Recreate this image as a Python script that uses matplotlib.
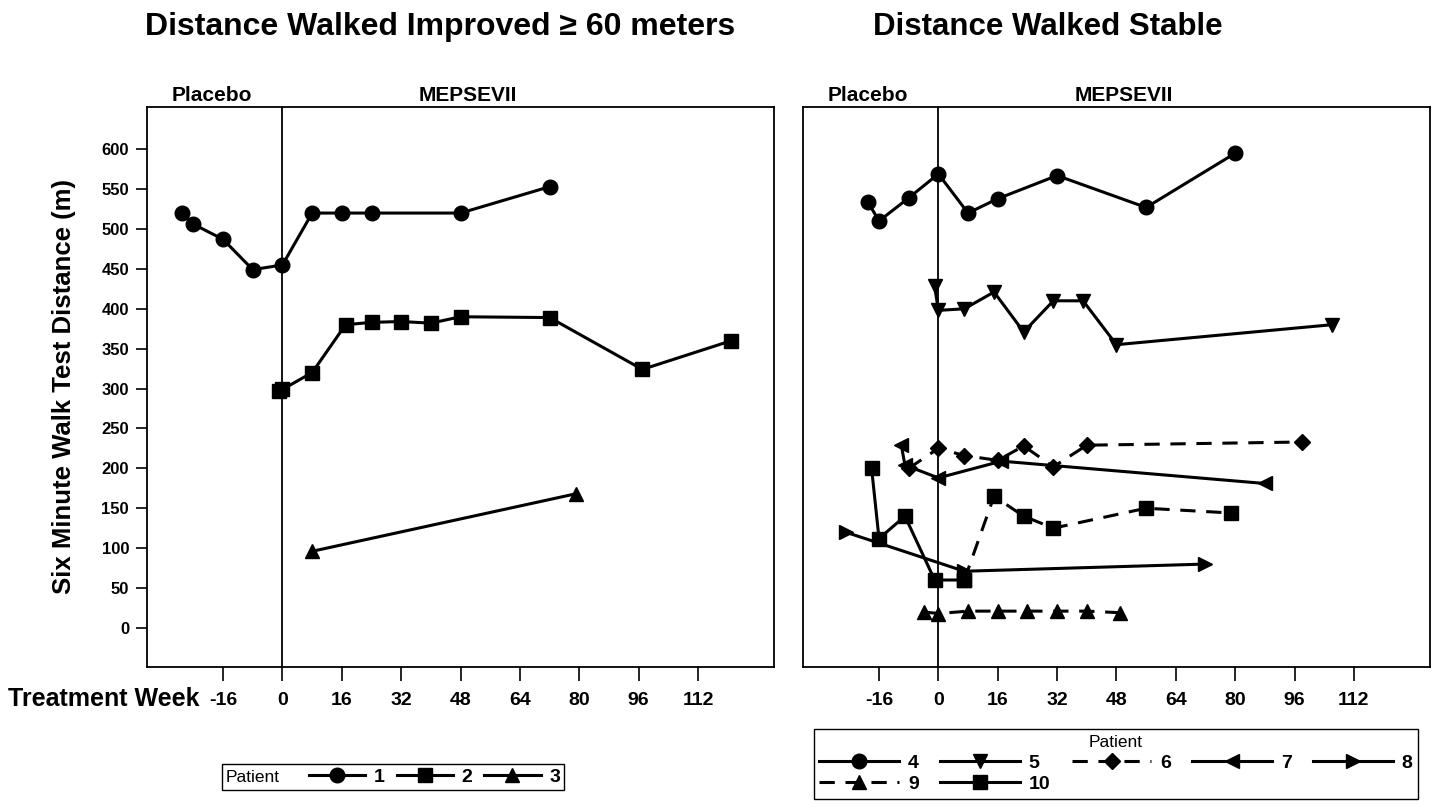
import matplotlib
matplotlib.use("Agg")
import matplotlib.pyplot as plt
from matplotlib.lines import Line2D
from matplotlib.offsetbox import HPacker
from matplotlib.transforms import blended_transform_factory

plt.rcParams['font.family'] = ['Liberation Sans', 'DejaVu Sans']

# ---- data (treatment week, six minute walk distance in m) ----
p1_week = [-27, -24, -16, -8, 0, 8, 16, 24, 48, 72]
p1_dist = [520, 506, 487, 449, 455, 520, 520, 520, 520, 553]
p2_week = [-1, 0, 8, 17, 24, 32, 40, 48, 72, 97, 121]
p2_dist = [297, 299, 320, 380, 383, 384, 382, 390, 389, 324, 360]
p3_week = [8, 79]
p3_dist = [96, 168]

p4_week = [-19, -16, -8, 0, 8, 16, 32, 56, 80]
p4_dist = [534, 510, 539, 569, 520, 538, 567, 527, 595]
p5_week = [-1, 0, 7, 15, 23, 31, 39, 48, 106]
p5_dist = [428, 398, 400, 421, 371, 410, 410, 355, 380]
p6_week = [-8, 0, 7, 16, 23, 31, 40, 98]
p6_dist = [200, 225, 216, 210, 228, 202, 229, 233]
p7_week = [-10, -9, 0, 17, 88]
p7_dist = [229, 204, 188, 209, 181]
p8_week = [-25, 7, 72]
p8_dist = [120, 71, 80]
p9_week = [-4, 0, 8, 16, 24, 32, 40, 49]
p9_dist = [20, 18, 21, 21, 21, 21, 21, 19]
p10_week = [-18, -16, -9, -1, 7]
p10_dist = [200, 112, 140, 60, 60]
p10b_week = [7, 15, 23, 31, 56, 79]
p10b_dist = [60, 165, 140, 125, 150, 144]

week_ticks = [-16, 0, 16, 32, 48, 64, 80, 96, 112]
dist_ticks = [0, 50, 100, 150, 200, 250, 300, 350, 400, 450, 500, 550, 600]

fig = plt.figure(figsize=(14.39, 8.06), dpi=100)
ax1 = fig.add_axes([0.1022, 0.1725, 0.4357, 0.6948])
ax2 = fig.add_axes([0.558, 0.1725, 0.4357, 0.6948])

lw = 2.2
ms = 10.5
dash = (0, (5, 3.5))
sty = dict(color='black', linewidth=lw, markerfacecolor='black', markeredgecolor='black')

ax1.plot(p1_week, p1_dist, marker='o', markersize=ms, **sty)
ax1.plot(p2_week, p2_dist, marker='s', markersize=ms, **sty)
ax1.plot(p3_week, p3_dist, marker='^', markersize=ms, **sty)

ax2.plot(p4_week, p4_dist, marker='o', markersize=ms, **sty)
ax2.plot(p5_week, p5_dist, marker='v', markersize=ms, **sty)
ax2.plot(p6_week, p6_dist, marker='D', markersize=7.8, linestyle=dash, **sty)
ax2.plot(p7_week, p7_dist, marker='<', markersize=ms, **sty)
ax2.plot(p8_week, p8_dist, marker='>', markersize=ms, **sty)
ax2.plot(p9_week, p9_dist, marker='^', markersize=ms, linestyle=dash, **sty)
ax2.plot(p10_week, p10_dist, marker='s', markersize=ms, **sty)
ax2.plot(p10b_week, p10b_dist, marker='s', markersize=ms, linestyle=dash, **sty)

for ax in (ax1, ax2):
    ax.set_xlim(-36.5, 132.5)
    ax.set_ylim(-49, 653)
    ax.axvline(0, color='black', linewidth=1.3, zorder=0)
    ax.set_xticks(week_ticks)
    ax.set_xticklabels([str(w) for w in week_ticks], fontsize=14, fontweight='bold')
    ax.tick_params(axis='x', direction='out', length=10, width=1.2, pad=8)
    for s in ax.spines.values():
        s.set_linewidth(1.3)
    tr = blended_transform_factory(ax.transData, ax.transAxes)
    ax.text(-19, 1.004, 'Placebo', transform=tr, ha='center', va='bottom',
            fontsize=15, fontweight='bold')
    ax.text(50, 1.004, 'MEPSEVII', transform=tr, ha='center', va='bottom',
            fontsize=15, fontweight='bold')

ax1.set_yticks(dist_ticks)
ax1.set_yticklabels([str(d) for d in dist_ticks], fontsize=12, fontweight='bold')
ax1.tick_params(axis='y', direction='out', length=8, width=1.2, pad=5)
ax1.set_ylabel('Six Minute Walk Test Distance (m)', fontsize=18.5, fontweight='bold', labelpad=18)
ax2.set_yticks([])

fig.text(440 / 1439, 1 - 27 / 806, 'Distance Walked Improved \u2265 60 meters',
         ha='center', va='center', fontsize=23, fontweight='bold')
fig.text(1048 / 1439, 1 - 27 / 806, 'Distance Walked Stable',
         ha='center', va='center', fontsize=22.5, fontweight='bold')
fig.text(8 / 1439, 1 - 699 / 806, 'Treatment Week', ha='left', va='center',
         fontsize=18, fontweight='bold')


def handle(marker, size, ls='-'):
    return Line2D([], [], color='black', linewidth=lw, linestyle=ls, marker=marker,
                  markersize=size, markerfacecolor='black', markeredgecolor='black')


leg1 = fig.legend([handle('o', ms), handle('s', ms), handle('^', ms)],
                  ['1', '2', '3'], ncol=3, loc='center', title='Patient',
                  title_fontsize=12.5, bbox_to_anchor=(393 / 1439, 1 - 777 / 806),
                  fontsize=14, handlelength=2.9, handletextpad=0.45, columnspacing=0.6,
                  borderpad=0.2, fancybox=False, edgecolor='black', framealpha=1)
leg1.get_frame().set_linewidth(1.0)
for t in leg1.get_texts():
    t.set_fontweight('bold')
# put the "Patient" title to the left of the entries, not on top
try:
    fs = leg1._fontsize
    box = HPacker(pad=leg1.borderpad * fs, sep=1.5 * fs, align='center',
                  children=[leg1._legend_title_box, leg1._legend_handle_box])
    box.set_figure(fig)
    box.set_offset(leg1._findoffset)
    leg1._legend_box = box
except Exception:
    pass

h = [handle('o', ms), handle('^', ms, dash), handle('v', ms), handle('s', ms),
     handle('D', 7.8, dash), handle('<', ms), handle('>', ms)]
lab = ['4', '9', '5', '10', '6', '7', '8']
leg2 = fig.legend(h, lab, ncol=5, loc='center', title='Patient', title_fontsize=12.5,
                  bbox_to_anchor=(1116 / 1439, 1 - 764 / 806), fontsize=14,
                  handlelength=4.1, handletextpad=0.45, columnspacing=1.1,
                  borderpad=0.3, labelspacing=0.2, fancybox=False,
                  edgecolor='black', framealpha=1)
leg2.get_frame().set_linewidth(1.0)
for t in leg2.get_texts():
    t.set_fontweight('bold')

fig.savefig('out.png', dpi=100)
